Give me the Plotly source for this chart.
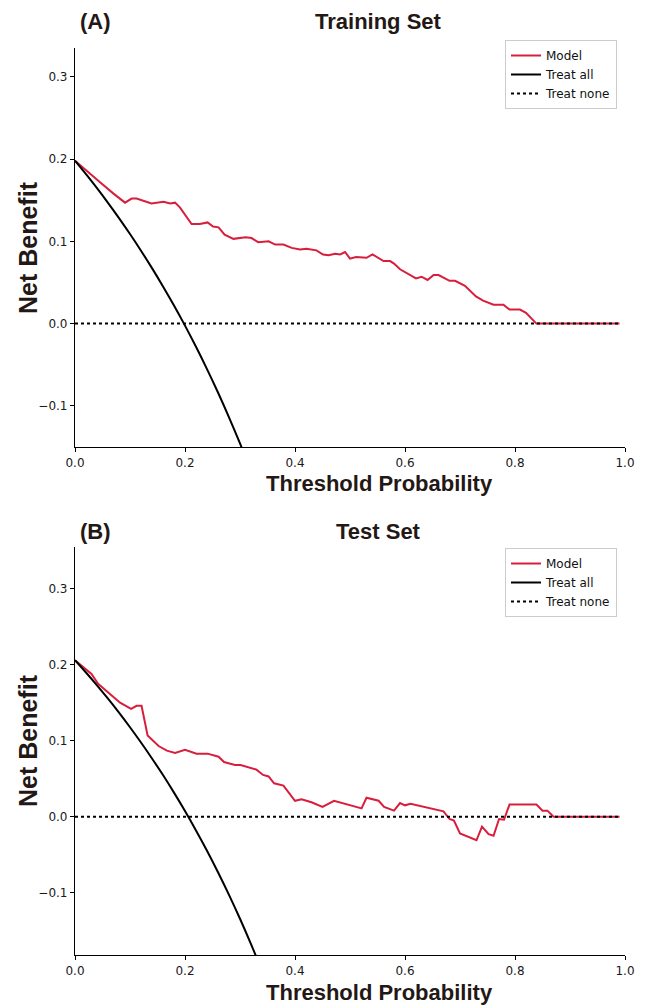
import plotly.graph_objects as go

# ---------------- data ----------------
train_model_t = [0.0, 0.02, 0.045, 0.07, 0.091, 0.103, 0.112, 0.139, 0.161, 0.173, 0.182, 0.191,
                 0.212, 0.227, 0.241, 0.251, 0.261, 0.272, 0.288, 0.310, 0.321, 0.333, 0.352,
                 0.364, 0.379, 0.394, 0.409, 0.421, 0.439, 0.451, 0.461, 0.473, 0.482, 0.491,
                 0.500, 0.511, 0.530, 0.541, 0.561, 0.573, 0.580, 0.591, 0.606, 0.620, 0.630,
                 0.641, 0.652, 0.661, 0.681, 0.691, 0.709, 0.729, 0.742, 0.761, 0.779, 0.790,
                 0.809, 0.820, 0.839, 0.90, 0.99]
train_model_v = [0.198, 0.186, 0.172, 0.158, 0.147, 0.152, 0.152, 0.146, 0.148, 0.146, 0.147, 0.141,
                 0.121, 0.121, 0.123, 0.118, 0.117, 0.108, 0.103, 0.105, 0.104, 0.099, 0.100,
                 0.096, 0.096, 0.092, 0.090, 0.091, 0.089, 0.084, 0.083, 0.085, 0.084, 0.087,
                 0.079, 0.081, 0.080, 0.084, 0.076, 0.076, 0.073, 0.066, 0.060, 0.055, 0.057,
                 0.053, 0.059, 0.059, 0.052, 0.052, 0.046, 0.033, 0.028, 0.023, 0.023, 0.017,
                 0.017, 0.013, 0.000, 0.000, 0.000]

test_model_t = [0.0, 0.030, 0.042, 0.058, 0.082, 0.102, 0.112, 0.121, 0.132, 0.152, 0.167, 0.182,
                0.200, 0.221, 0.241, 0.261, 0.271, 0.291, 0.301, 0.330, 0.342, 0.352, 0.362,
                0.379, 0.400, 0.412, 0.430, 0.450, 0.471, 0.521, 0.530, 0.552, 0.562, 0.580,
                0.591, 0.600, 0.610, 0.670, 0.681, 0.689, 0.700, 0.730, 0.740, 0.752, 0.761,
                0.771, 0.780, 0.790, 0.839, 0.850, 0.859, 0.870, 0.93, 0.99]
test_model_v = [0.206, 0.188, 0.175, 0.165, 0.150, 0.142, 0.146, 0.146, 0.107, 0.093, 0.087, 0.084,
                0.088, 0.083, 0.083, 0.079, 0.072, 0.068, 0.068, 0.062, 0.055, 0.053, 0.044,
                0.041, 0.021, 0.023, 0.019, 0.013, 0.021, 0.011, 0.025, 0.021, 0.013, 0.008,
                0.018, 0.015, 0.017, 0.007, -0.003, -0.005, -0.022, -0.031, -0.013, -0.023, -0.025,
                -0.003, -0.004, 0.016, 0.016, 0.008, 0.008, 0.000, 0.000, 0.000]

all_t = [0.0, 0.02, 0.04, 0.06, 0.08, 0.10, 0.12, 0.14, 0.16, 0.18, 0.20, 0.22, 0.24,
         0.26, 0.28, 0.30, 0.32, 0.34, 0.36]
train_all_v = [0.198, 0.1816, 0.1646, 0.1468, 0.1283, 0.1089, 0.0886, 0.0674, 0.0452, 0.0220,
               -0.0025, -0.0282, -0.0553, -0.0838, -0.1139, -0.1457, -0.1794, -0.2152, -0.2540]
test_all_v = [0.206, 0.1898, 0.1729, 0.1553, 0.1370, 0.1178, 0.0977, 0.0767, 0.0548, 0.0317,
              0.0075, -0.0180, -0.0447, -0.0730, -0.1028, -0.1343, -0.1677, -0.2030, -0.2406]

none_t = [0.0, 0.99]
none_v = [0.0, 0.0]

x_ticks = [0.0, 0.2, 0.4, 0.6, 0.8, 1.0]
x_tick_labels = ["0.0", "0.2", "0.4", "0.6", "0.8", "1.0"]
y_ticks = [-0.1, 0.0, 0.1, 0.2, 0.3]
y_tick_labels = ["\u22120.1", "0.0", "0.1", "0.2", "0.3"]

panel_labels = ["(A)", "(B)"]
panel_titles = ["Training Set", "Test Set"]
legend_names = ["Model", "Treat all", "Treat none"]

# ---------------- figure ----------------
OFF = 8            # default page body margin
W, H = 646 - OFF, 1007 - OFF
RED = "#D81E3C"
BOLD = "Liberation Sans, Arial, sans-serif"
TXT = "#231815"
TICKF = dict(family="DejaVu Sans", size=12, color="#1a1a1a")


def fx(p):
    return (p - OFF) / W


def fy(p):
    return 1 - (p - OFF) / H


fig = go.Figure()

panels = [
    dict(model_t=train_model_t, model_v=train_model_v, all_v=train_all_v,
         xa="x", ya="y", legend="legend"),
    dict(model_t=test_model_t, model_v=test_model_v, all_v=test_all_v,
         xa="x2", ya="y2", legend="legend2"),
]

for p in panels:
    fig.add_trace(go.Scatter(x=p["model_t"], y=p["model_v"], mode="lines", name=legend_names[0],
                             line=dict(color=RED, width=2), xaxis=p["xa"], yaxis=p["ya"],
                             legend=p["legend"]))
    fig.add_trace(go.Scatter(x=all_t, y=p["all_v"], mode="lines", name=legend_names[1],
                             line=dict(color="black", width=2, shape="spline"),
                             xaxis=p["xa"], yaxis=p["ya"], legend=p["legend"]))
    fig.add_trace(go.Scatter(x=none_t, y=none_v, mode="lines", name=legend_names[2],
                             line=dict(color="black", width=2, dash="dot"),
                             xaxis=p["xa"], yaxis=p["ya"], legend=p["legend"]))

xdom = [fx(75), fx(625)]
dom_top = [fy(447), fy(48)]
dom_bot = [fy(955), fy(547)]

axis_common = dict(showgrid=False, zeroline=False, showline=True, linecolor="black", linewidth=1.2,
                   ticks="outside", ticklen=4, tickwidth=1, tickcolor="black",
                   tickfont=TICKF, automargin=False, mirror=False)

legend_common = dict(xanchor="right", yanchor="top", bgcolor="white",
                     bordercolor="#cccccc", borderwidth=1,
                     font=dict(family="DejaVu Sans", size=12, color="#111111"),
                     tracegroupgap=0, itemwidth=30)

fig.update_layout(
    width=W, height=H,
    margin=dict(l=0, r=0, t=0, b=0),
    plot_bgcolor="white", paper_bgcolor="white",
    showlegend=True,
    xaxis=dict(domain=xdom, range=[0, 1], anchor="y", tickvals=x_ticks, ticktext=x_tick_labels,
               **axis_common),
    yaxis=dict(domain=dom_top, range=[-0.15, 0.335], anchor="x", tickvals=y_ticks,
               ticktext=y_tick_labels, **axis_common),
    xaxis2=dict(domain=xdom, range=[0, 1], anchor="y2", tickvals=x_ticks, ticktext=x_tick_labels,
                **axis_common),
    yaxis2=dict(domain=dom_bot, range=[-0.182, 0.355], anchor="x2", tickvals=y_ticks,
                ticktext=y_tick_labels, **axis_common),
    legend=dict(x=fx(617), y=fy(40), **legend_common),
    legend2=dict(x=fx(617), y=fy(548), **legend_common),
)

annots = []
title_y = [21, 531]
xlabel_y = [484, 992]
ylabel_y = [248, 741]
for i in range(2):
    annots.append(dict(text="<b>" + panel_labels[i] + "</b>", x=fx(95), y=fy(title_y[i]),
                       xref="paper", yref="paper", showarrow=False, xanchor="center", yanchor="middle",
                       font=dict(family=BOLD, size=22, color=TXT)))
    annots.append(dict(text="<b>" + panel_titles[i] + "</b>", x=fx(378), y=fy(title_y[i]),
                       xref="paper", yref="paper", showarrow=False, xanchor="center", yanchor="middle",
                       font=dict(family=BOLD, size=22, color=TXT)))
    annots.append(dict(text="<b>Threshold Probability</b>", x=fx(379), y=fy(xlabel_y[i]),
                       xref="paper", yref="paper", showarrow=False, xanchor="center", yanchor="middle",
                       font=dict(family=BOLD, size=22, color=TXT)))
    annots.append(dict(text="<b>Net Benefit</b>", x=fx(28), y=fy(ylabel_y[i]),
                       xref="paper", yref="paper", showarrow=False, xanchor="center", yanchor="middle",
                       textangle=-90, font=dict(family=BOLD, size=25, color=TXT)))
fig.update_layout(annotations=annots)

fig.write_html("out.html")
